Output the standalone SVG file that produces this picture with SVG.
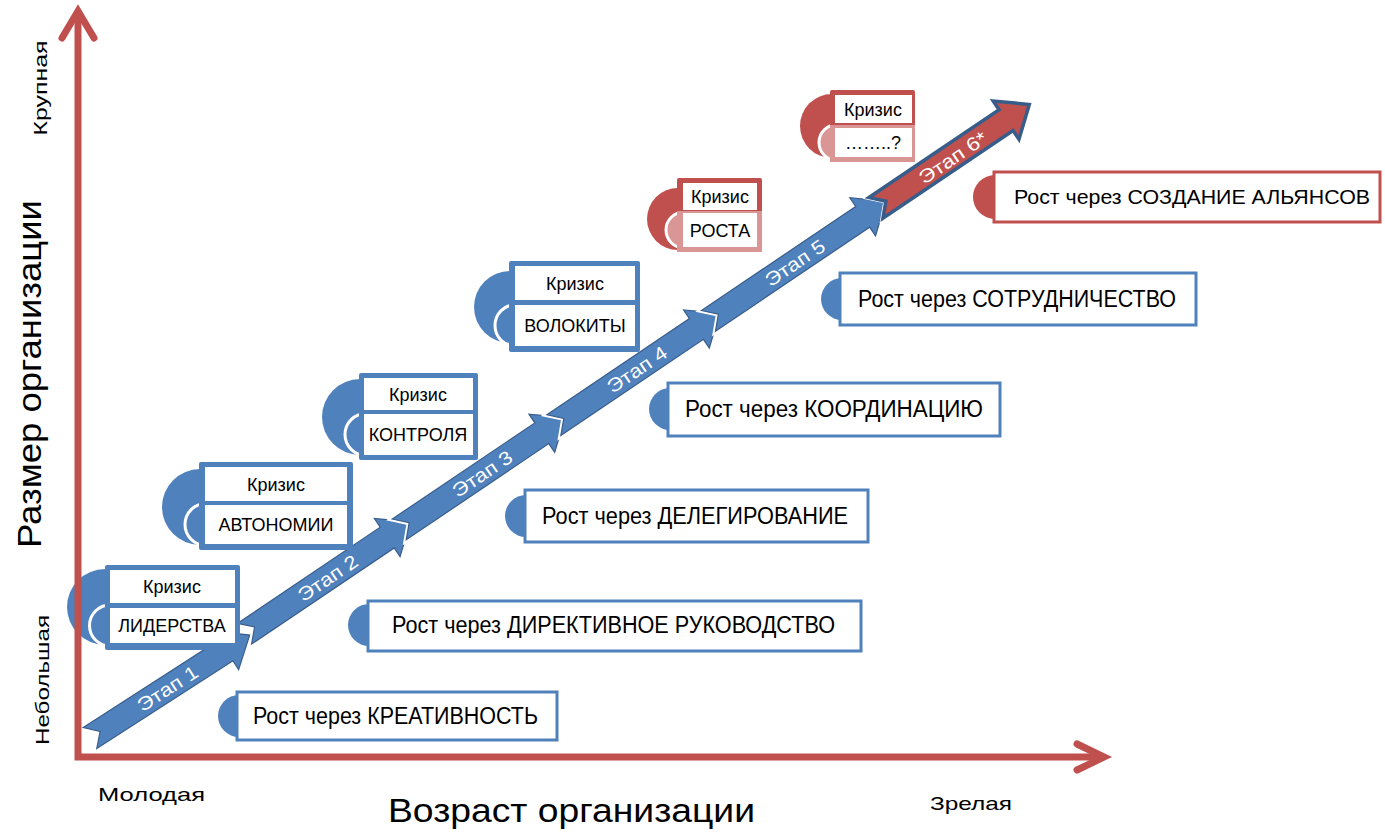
<svg xmlns="http://www.w3.org/2000/svg" xmlns:xlink="http://www.w3.org/1999/xlink" width="1385" height="832" viewBox="0 0 1385 832">
<style>
text{font-family:"Liberation Sans",Arial,sans-serif;fill:#000}
.ax{fill:none;stroke:#C0504D;stroke-width:7}
.axh{fill:none;stroke:#C0504D;stroke-width:7;stroke-linecap:round;stroke-linejoin:miter}
.segw{fill:#fff;stroke:#fff;stroke-width:5;stroke-linejoin:miter}
.segb{fill:#4F81BD;stroke:#385D8A;stroke-width:1.2}
.segr{fill:#C0504D;stroke:#385D8A;stroke-width:3.5}
.stg{fill:#fff;font-size:19px;text-anchor:middle}
.b{fill:#4F81BD}
.r{fill:#C0504D}
.p{fill:#D99694}
.cell{fill:#fff}
.arcw{fill:none;stroke:#fff;stroke-width:3}
.ct{font-size:18px;text-anchor:middle}
.gb{fill:#fff;stroke:#4F81BD;stroke-width:3}
.gr{fill:#fff;stroke:#C0504D;stroke-width:3}
.gt{font-size:23px}
.lab{font-size:19px}
</style>
<defs>
<path id="seg" d="M0,-12.5 L172,-12.5 L172,-23 L200,0 L172,23 L172,12.5 L0,12.5 L12,0 Z"/>
<path id="seg1" d="M0,-12.5 L162,-12.5 L162,-23 L190,0 L162,23 L162,12.5 L0,12.5 L12,0 Z"/>
<path id="seg5" d="M0,-12.5 L186,-12.5 L186,-23 L214,0 L186,23 L186,12.5 L0,12.5 L12,0 Z"/>
<path id="seg6" d="M0,-12.5 L157,-12.5 L157,-23 L185,0 L157,23 L157,12.5 L0,12.5 L12,0 Z"/>
</defs>

<!-- growth boxes -->
<g id="g1"><circle class="b" cx="239" cy="716" r="21"/><rect class="gb" x="237" y="692" width="320" height="48"/><text class="gt" x="253" y="724" textLength="285" lengthAdjust="spacingAndGlyphs">Рост через КРЕАТИВНОСТЬ</text></g>
<g id="g2"><circle class="b" cx="369" cy="625" r="21"/><rect class="gb" x="368" y="601" width="493" height="50"/><text class="gt" x="392" y="633" textLength="443" lengthAdjust="spacingAndGlyphs">Рост через ДИРЕКТИВНОЕ РУКОВОДСТВО</text></g>
<g id="g3"><circle class="b" cx="526" cy="516" r="21"/><rect class="gb" x="525" y="490" width="343" height="52"/><text class="gt" x="542" y="524" textLength="306" lengthAdjust="spacingAndGlyphs">Рост через ДЕЛЕГИРОВАНИЕ</text></g>
<g id="g4"><circle class="b" cx="670" cy="409" r="21"/><rect class="gb" x="668" y="383" width="332" height="53"/><text class="gt" x="685" y="417" textLength="298" lengthAdjust="spacingAndGlyphs">Рост через КООРДИНАЦИЮ</text></g>
<g id="g5"><circle class="b" cx="842" cy="299" r="21"/><rect class="gb" x="840" y="273" width="356" height="52"/><text class="gt" x="858" y="307" textLength="318" lengthAdjust="spacingAndGlyphs">Рост через СОТРУДНИЧЕСТВО</text></g>
<g id="g6"><circle class="r" cx="995" cy="197" r="22"/><rect class="gr" x="994" y="172" width="386" height="50"/><text x="1014" y="204" font-size="21" textLength="356" lengthAdjust="spacingAndGlyphs">Рост через СОЗДАНИЕ АЛЬЯНСОВ</text></g>

<!-- stage arrows -->
<g id="stages">
<g transform="translate(90,738) rotate(-32.8)">
<use href="#seg1" class="segw"/><use href="#seg1" class="segb"/><text class="stg" x="92" y="7" textLength="68" lengthAdjust="spacingAndGlyphs">Этап 1</text>
</g>
<g transform="translate(90,738) rotate(-34)">
<use href="#seg" class="segw" x="186.5"/><use href="#seg" class="segb" x="186.5"/><text class="stg" x="286.5" y="7" textLength="68" lengthAdjust="spacingAndGlyphs">Этап 2</text>
<use href="#seg" class="segw" x="373"/><use href="#seg" class="segb" x="373"/><text class="stg" x="473" y="7" textLength="68" lengthAdjust="spacingAndGlyphs">Этап 3</text>
<use href="#seg" class="segw" x="559.5"/><use href="#seg" class="segb" x="559.5"/><text class="stg" x="659.5" y="7" textLength="68" lengthAdjust="spacingAndGlyphs">Этап 4</text>
<use href="#seg5" class="segw" x="746"/><use href="#seg5" class="segb" x="746"/><text class="stg" x="850" y="7" textLength="68" lengthAdjust="spacingAndGlyphs">Этап 5</text>
<use href="#seg6" class="segw" x="948"/><use href="#seg6" class="segr" x="948"/><text class="stg" x="1040" y="8" textLength="78" lengthAdjust="spacingAndGlyphs">Этап 6*</text>
</g>
</g>

<!-- crisis boxes -->
<g id="c1"><circle class="b" cx="105" cy="607" r="38"/><circle class="arcw" cx="110" cy="625.5" r="20.5"/><rect class="b" x="105" y="565" width="135" height="85" rx="2"/><rect class="cell" x="110" y="570" width="125" height="33"/><rect class="cell" x="110" y="608" width="125" height="35"/><text class="ct" x="172" y="593">Кризис</text><text class="ct" x="172" y="632">ЛИДЕРСТВА</text></g>
<g id="c2"><circle class="b" cx="200" cy="507" r="38"/><circle class="arcw" cx="206" cy="524.5" r="21"/><rect class="b" x="199" y="462" width="154" height="88" rx="2"/><rect class="cell" x="205" y="467" width="142" height="34"/><rect class="cell" x="205" y="505" width="142" height="39"/><text class="ct" x="276" y="491">Кризис</text><text class="ct" x="276" y="531">АВТОНОМИИ</text></g>
<g id="c3"><circle class="b" cx="360" cy="417" r="38"/><circle class="arcw" cx="366" cy="434.5" r="21"/><rect class="b" x="359" y="373" width="119" height="87" rx="2"/><rect class="cell" x="364" y="378" width="109" height="32"/><rect class="cell" x="364" y="414" width="109" height="41"/><text class="ct" x="418" y="401">Кризис</text><text class="ct" x="418" y="441">КОНТРОЛЯ</text></g>
<g id="c4"><circle class="b" cx="510" cy="307" r="36"/><circle class="arcw" cx="516" cy="325.5" r="21"/><rect class="b" x="509" y="261" width="131" height="91" rx="2"/><rect class="cell" x="515" y="266" width="120" height="34"/><rect class="cell" x="515" y="305" width="120" height="41"/><text class="ct" x="575" y="290">Кризис</text><text class="ct" x="575" y="332">ВОЛОКИТЫ</text></g>
<g id="c5"><circle class="r" cx="678" cy="219" r="31"/><circle class="p" cx="684" cy="230" r="18"/><circle class="arcw" cx="684" cy="230" r="18"/><rect class="r" x="677" y="178" width="85" height="74" rx="2"/><rect class="p" x="677" y="211" width="85" height="41"/><rect class="cell" x="683" y="183" width="74" height="27"/><rect class="cell" x="683" y="213" width="74" height="34"/><text class="ct" x="720" y="203">Кризис</text><text class="ct" x="720" y="237">РОСТА</text></g>
<g id="c6"><circle class="r" cx="832" cy="126" r="32"/><circle class="p" cx="837" cy="142.5" r="18"/><circle class="arcw" cx="837" cy="142.5" r="18"/><rect class="r" x="830" y="90" width="85" height="72" rx="2"/><rect class="p" x="830" y="125" width="85" height="37"/><rect class="cell" x="835" y="95" width="77" height="28"/><rect class="cell" x="835" y="128" width="77" height="29"/><text class="ct" x="873" y="116">Кризис</text><text class="ct" x="873" y="149">……..?</text></g>

<!-- axes -->
<g id="axes">
<polyline class="ax" points="78,14 78,757 1102,757" stroke-linejoin="miter"/>
<polyline class="axh" points="62,38 78,11 94,38"/>
<polyline class="axh" points="1077,744 1104,757 1077,770"/>
</g>

<!-- labels -->
<g id="labels">
<text class="lab" transform="translate(47,88) rotate(-90)" text-anchor="middle" textLength="95" lengthAdjust="spacingAndGlyphs">Крупная</text>
<text class="lab" transform="translate(49,680) rotate(-90)" text-anchor="middle" textLength="130" lengthAdjust="spacingAndGlyphs">Небольшая</text>
<text transform="translate(41,374) rotate(-90)" text-anchor="middle" font-size="33" textLength="348" lengthAdjust="spacingAndGlyphs">Размер организации</text>
<text class="lab" x="98" y="801" textLength="107" lengthAdjust="spacingAndGlyphs">Молодая</text>
<text x="388" y="822" font-size="33" textLength="367" lengthAdjust="spacingAndGlyphs">Возраст организации</text>
<text class="lab" x="930" y="810" textLength="82" lengthAdjust="spacingAndGlyphs">Зрелая</text>
</g>
</svg>
